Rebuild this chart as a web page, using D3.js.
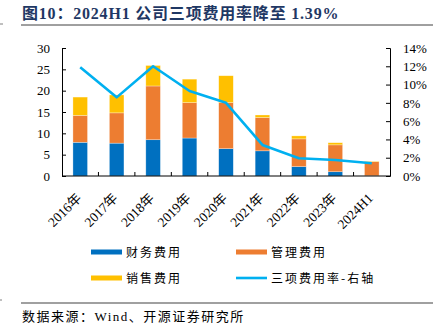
<!DOCTYPE html>
<html>
<head>
<meta charset="utf-8">
<script src="https://cdn.jsdelivr.net/npm/d3@7"></script>
<style>
  body { margin: 0; background: #fff; }
  svg { display: block; }
</style>
</head>
<body>
<script>
const years = ["2016年", "2017年", "2018年", "2019年", "2020年", "2021年", "2022年", "2023年", "2024H1"]
const finance = [7.9, 7.7, 8.5, 8.9, 6.4, 5.9, 2.2, 1.0, 0.05]
const admin = [6.3, 7.1, 12.6, 8.3, 10.8, 7.8, 6.5, 6.3, 3.3]
const sales = [4.3, 4.2, 4.8, 5.5, 6.3, 0.6, 0.7, 0.5, 0.15]
const rate = [11.9, 8.6, 12.0, 9.3, 8.0, 3.4, 1.94, 1.75, 1.39]
const leftTicks = [0, 5, 10, 15, 20, 25, 30]
const rightTicks = [0, 2, 4, 6, 8, 10, 12, 14]

const W = 443, H = 332
const margin = {top: 48, right: 53, bottom: 156, left: 62}
const width = W - margin.left - margin.right,
  height = H - margin.top - margin.bottom

const serif = '"Times New Roman", "Liberation Serif", "Noto Sans CJK SC", serif'
const cjk = '"Noto Sans CJK SC", sans-serif'

const svg = d3.select('body').append('svg')
  .attr('width', W)
  .attr('height', H)

// title
svg.append('text')
  .attr('x', 22).attr('y', 19)
  .attr('fill', '#1f3864')
  .attr('font-family', serif)
  .attr('font-weight', 'bold')
  .attr('font-size', 16)
  .attr('letter-spacing', 0.8)
  .text('图10：2024H1 公司三项费用率降至 1.39%')
svg.append('line').attr('x1', 21).attr('x2', 433).attr('y1', 25).attr('y2', 25)
  .attr('stroke', '#404040').attr('stroke-width', 1)
svg.append('line').attr('x1', 0).attr('x2', 3).attr('y1', 24).attr('y2', 24)
  .attr('stroke', '#808080')

const bandX = d3.scaleBand().domain(years).range([0, width])

const scaleY = d3.scaleLinear().domain([0, 30]).range([height, 0])
const scaleR = d3.scaleLinear().domain([0, 14]).range([height, 0])

const g = svg.append('g').attr('transform', `translate(${margin.left},${margin.top})`)

const stackData = years.map((y, i) => ({year: y, finance: finance[i], admin: admin[i], sales: sales[i]}))
const keys = ['finance', 'admin', 'sales']
const colors = {finance: '#0070c0', admin: '#ed7d31', sales: '#ffc000'}
const series = d3.stack().keys(keys)(stackData)

g.selectAll('g.layer')
  .data(series)
  .enter().append('g')
  .attr('fill', d => colors[d.key])
  .selectAll('rect')
  .data(d => d)
  .enter().append('rect')
  .attr('x', d => bandX(d.data.year) + bandX.bandwidth() * 0.3)
  .attr('width', bandX.bandwidth() * 0.4)
  .attr('y', d => scaleY(d[1]))
  .attr('height', d => scaleY(d[0]) - scaleY(d[1]))
  .attr('stroke', 'rgba(255,255,255,0.5)')
  .attr('stroke-width', 0.6)

// rate line
const line = d3.line()
  .x((d, i) => bandX(years[i]) + bandX.bandwidth() / 2)
  .y(d => scaleR(d))
g.append('path')
  .datum(rate)
  .attr('fill', 'none')
  .attr('stroke', '#00b0f0')
  .attr('stroke-width', 2.6)
  .attr('stroke-linejoin', 'round')
  .attr('d', line)

// axes
const axisL = d3.axisLeft(scaleY).tickValues(leftTicks).tickSize(-4).tickPadding(12)
const gl = g.append('g').call(axisL)
gl.selectAll('text').attr('font-family', serif).attr('font-size', 13).attr('fill', '#000')

const axisR = d3.axisRight(scaleR).tickValues(rightTicks).tickSize(-4).tickPadding(13)
  .tickFormat(d => d + '%')
const gr = g.append('g').attr('transform', `translate(${width},0)`).call(axisR)
gr.selectAll('text').attr('font-family', serif).attr('font-size', 13).attr('fill', '#000')

const gx = g.append('g').attr('transform', `translate(0,${height})`)
gx.append('line').attr('x1', 0).attr('x2', width).attr('stroke', '#000')
gx.selectAll('line.tk')
  .data(years.slice(1))
  .enter().append('line')
  .attr('class', 'tk')
  .attr('x1', d => bandX(d)).attr('x2', d => bandX(d))
  .attr('y1', 0).attr('y2', -4)
  .attr('stroke', '#000')
gx.selectAll('text')
  .data(years)
  .enter().append('text')
  .attr('transform', d => `translate(${bandX(d) + bandX.bandwidth() / 2 + 2},${23}) rotate(-45)`)
  .attr('text-anchor', 'end')
  .attr('font-family', serif)
  .attr('font-size', 13.5)
  .text(d => d)

gl.select('.domain').attr('stroke', '#000')
gr.select('.domain').attr('stroke', '#000')

// legend
const legendItems = [
  {label: '财务费用', color: '#0070c0', x: 91, y: 252, h: 5},
  {label: '管理费用', color: '#ed7d31', x: 236, y: 252, h: 5},
  {label: '销售费用', color: '#ffc000', x: 91, y: 278, h: 5},
  {label: '三项费用率-右轴', color: '#00b0f0', x: 236, y: 278, h: 2.6}
]
const lg = svg.append('g')
lg.selectAll('rect')
  .data(legendItems)
  .enter().append('rect')
  .attr('x', d => d.x).attr('y', d => d.y - d.h / 2)
  .attr('width', 31).attr('height', d => d.h)
  .attr('fill', d => d.color)
lg.selectAll('text')
  .data(legendItems)
  .enter().append('text')
  .attr('x', d => d.x + 35).attr('y', d => d.y + 4.5)
  .attr('font-family', cjk)
  .attr('font-size', 12)
  .attr('letter-spacing', 2)
  .attr('fill', '#000')
  .text(d => d.label)

// source
svg.append('line').attr('x1', 21).attr('x2', 433).attr('y1', 303).attr('y2', 303)
  .attr('stroke', '#808080').attr('stroke-width', 1.5)
svg.append('line').attr('x1', 0).attr('x2', 2).attr('y1', 300).attr('y2', 300)
  .attr('stroke', '#808080')
svg.append('text')
  .attr('x', 22).attr('y', 321)
  .attr('font-family', serif)
  .attr('font-size', 13)
  .attr('letter-spacing', 1.5)
  .attr('fill', '#000')
  .text('数据来源：Wind、开源证券研究所')
</script>
</body>
</html>
